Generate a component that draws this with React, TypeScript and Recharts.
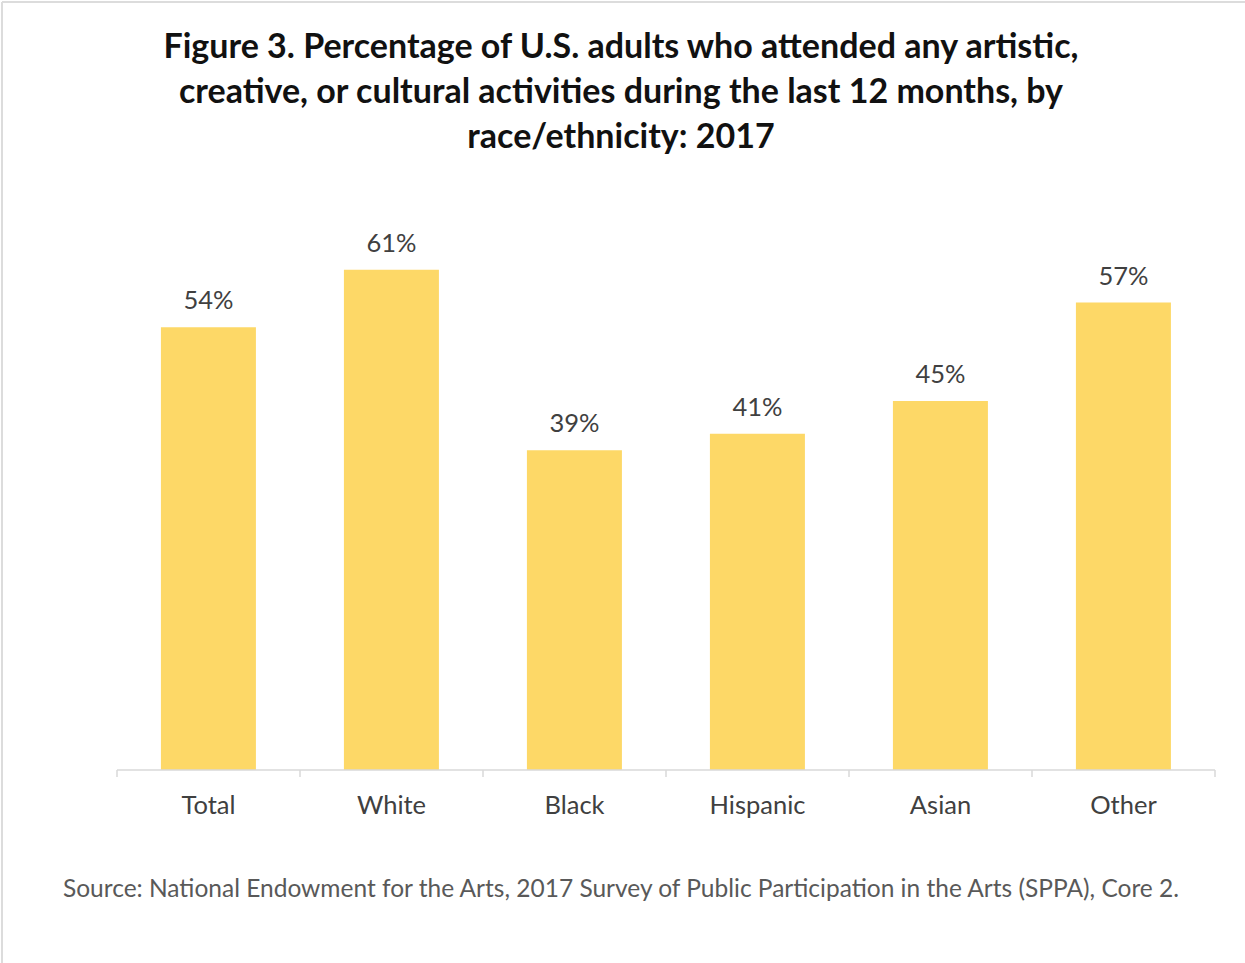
import { BarChart, Bar, XAxis, YAxis, LabelList } from "recharts";

const categories = ["Total", "White", "Black", "Hispanic", "Asian", "Other"];
const percentages = [54, 61, 39, 41, 45, 57];

const titleLines = [
  "Figure 3. Percentage of U.S. adults who attended any artistic,",
  "creative, or cultural activities during the last 12 months, by",
  "race/ethnicity: 2017",
];
const sourceNote =
  "Source: National Endowment for the Arts, 2017 Survey of Public Participation in the Arts (SPPA), Core 2.";

const data = categories.map((name, i) => ({ name, value: percentages[i] }));

const FONT = "Lato, 'Open Sans', sans-serif";
const BAR_COLOR = "#FDD867";
const AXIS_COLOR = "#d9d9d9";

// category label plus Excel-style tick marks on the band edges
const CategoryTick = (props: any) => {
  const { x, y, payload, index, width, visibleTicksCount } = props;
  const half = payload?.offset || width / visibleTicksCount / 2;
  const isLast = index === visibleTicksCount - 1;
  return (
    <g>
      <line x1={x - half} x2={x - half} y1={y} y2={y + 7} stroke={AXIS_COLOR} strokeWidth={1.5} />
      {isLast && (
        <line x1={x + half} x2={x + half} y1={y} y2={y + 7} stroke={AXIS_COLOR} strokeWidth={1.5} />
      )}
      <text
        x={x}
        y={y + 26}
        dy="0.71em"
        textAnchor="middle"
        fill="#404040"
        fontSize={25.5}
        fontFamily={FONT}
      >
        {payload.value}
      </text>
    </g>
  );
};

export default function App() {
  return (
    <div
      style={{
        position: "absolute",
        left: 0,
        top: 0,
        width: 1245,
        height: 963,
        background: "#fff",
        fontFamily: FONT,
      }}
    >
      <BarChart
        width={1245}
        height={963}
        data={data}
        margin={{ top: 196, right: 30, bottom: 163, left: 117 }}
        barCategoryGap="24%"
      >
        <XAxis
          dataKey="name"
          height={30}
          axisLine={{ stroke: AXIS_COLOR, strokeWidth: 1.5 }}
          tickLine={false}
          tickSize={0}
          tickMargin={0}
          interval={0}
          tick={<CategoryTick />}
        />
        <YAxis hide domain={[0, 70]} />
        <Bar dataKey="value" fill={BAR_COLOR} isAnimationActive={false}>
          <LabelList
            dataKey="value"
            position="top"
            offset={18}
            formatter={(v: number) => `${v}%`}
            style={{ fill: "#404040", fontSize: 25.5, fontFamily: FONT }}
          />
        </Bar>
      </BarChart>
      <svg
        width={1245}
        height={963}
        style={{ position: "absolute", left: 0, top: 0, pointerEvents: "none" }}
      >
        <line x1={2} y1={2} x2={1245} y2={2} stroke="#dcdcdc" strokeWidth={2} />
        <line x1={2} y1={2} x2={2} y2={963} stroke="#dcdcdc" strokeWidth={2} />
        {titleLines.map((line, i) => (
          <text
            key={i}
            x={621}
            y={58 + i * 45}
            textAnchor="middle"
            fontFamily={FONT}
            fontWeight="bold"
            fontSize={34}
            fill="#111"
          >
            {line}
          </text>
        ))}
        <text x={621} y={897} textAnchor="middle" fontFamily={FONT} fontSize={24.5} fill="#595959">
          {sourceNote}
        </text>
      </svg>
    </div>
  );
}
